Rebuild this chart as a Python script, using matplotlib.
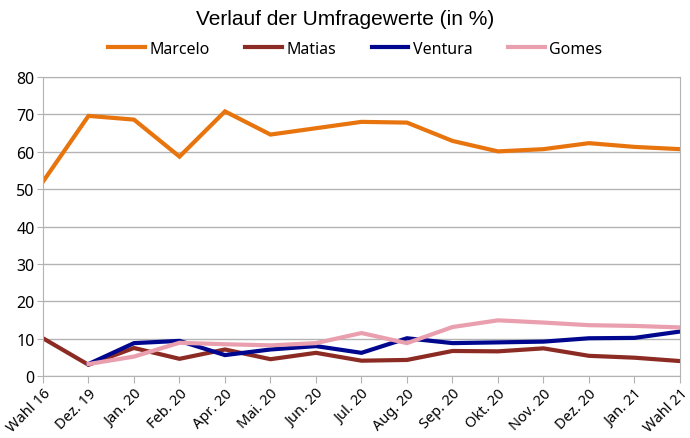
import matplotlib
matplotlib.use('Agg')
import matplotlib.pyplot as plt
import numpy as np

labels = ['Wahl 16', 'Dez. 19', 'Jan. 20', 'Feb. 20', 'Apr. 20', 'Mai. 20', 'Jun. 20',
          'Jul. 20', 'Aug. 20', 'Sep. 20', 'Okt. 20', 'Nov. 20', 'Dez. 20', 'Jan. 21', 'Wahl 21']

marcelo = [52.0, 69.6, 68.6, 58.7, 70.8, 64.6, 66.3, 68.0, 67.8, 62.9, 60.1, 60.7, 62.3, 61.3, 60.7]
matias = [10.1, 3.0, 7.5, 4.6, 7.1, 4.5, 6.2, 4.1, 4.3, 6.7, 6.6, 7.4, 5.4, 4.9, 4.0]
ventura = [np.nan, 3.2, 8.8, 9.4, 5.6, 7.1, 8.0, 6.2, 10.1, 8.8, 9.0, 9.2, 10.1, 10.2, 11.9]
gomes = [np.nan, 3.2, 5.2, 8.9, 8.5, 8.2, 8.8, 11.5, 8.8, 13.1, 14.9, 14.3, 13.6, 13.4, 13.0]

series = [('Marcelo', marcelo, '#e8740e'),
          ('Matias', matias, '#8c2b24'),
          ('Ventura', ventura, '#00078f'),
          ('Gomes', gomes, '#e99fad')]

plt.rcParams['font.family'] = ['Noto Sans', 'DejaVu Sans']

fig = plt.figure(figsize=(6.9, 4.39), dpi=100)
ax = fig.add_axes([0.0623, 0.1412, 0.9232, 0.6811])

x = np.arange(len(labels))
for name, vals, col in series:
    ax.plot(x, vals, color=col, lw=3, label=name, solid_joinstyle='miter')

ax.set_xlim(0, len(labels) - 1)
ax.set_ylim(0, 80)
ax.set_yticks(range(0, 81, 10))
ax.set_xticks(x)
ax.set_xticklabels(labels, rotation=45, ha='right', rotation_mode='anchor')
ax.yaxis.grid(True, color='#b3b3b3', lw=1)
ax.set_axisbelow(True)
for s in ax.spines.values():
    s.set_color('#b3b3b3')
ax.tick_params(axis='x', color='#b3b3b3', length=5, labelsize=10.5, pad=2)
ax.tick_params(axis='y', color='#b3b3b3', length=4, labelsize=11.5, pad=2)

fig.text(0.5, 0.955, 'Verlauf der Umfragewerte (in %)', ha='center', va='center',
         fontsize=15, family='Liberation Sans')
fig.legend(loc='center', bbox_to_anchor=(0.515, 0.886), ncol=4, frameon=False,
           fontsize=11.5, handlelength=2.3, handletextpad=0.3, columnspacing=2.2)

fig.savefig('out.png', dpi=100)
